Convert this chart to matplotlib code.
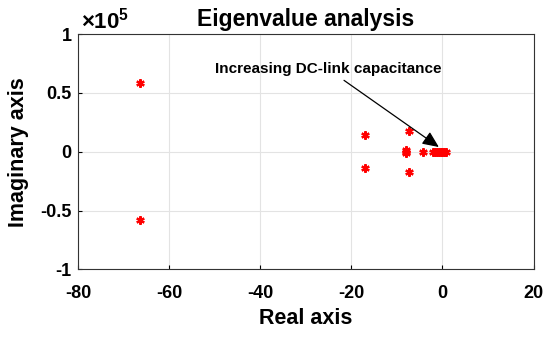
import numpy as np
import matplotlib
matplotlib.use('Agg')
import matplotlib.pyplot as plt
from matplotlib.ticker import FuncFormatter

plt.rcParams['font.family'] = ['Liberation Sans', 'DejaVu Sans']
plt.rcParams['font.weight'] = 'bold'
plt.rcParams['axes.unicode_minus'] = False
plt.rcParams['mathtext.fontset'] = 'custom'
plt.rcParams['mathtext.rm'] = 'Liberation Sans:bold'
plt.rcParams['mathtext.bf'] = 'Liberation Sans:bold'

# eigenvalues (real part, imaginary part)
re_part = [-66.5, -66.5, -17.0, -17.0, -7.3, -7.3, -8.0, -8.0, -8.0,
           -4.2, -2.1, -1.6, -1.2, -0.8, -0.4, 0.0, 0.4, 0.8]
im_part = [58000, -58000, 14500, -14000, 18000, -17500, 1200, -1200, 0,
           0, 0, 0, 0, 0, 0, 0, 0, 0]

fig = plt.figure(figsize=(5.5, 3.38), dpi=100)
ax = fig.add_axes([0.1427, 0.2027, 0.8273, 0.6967])

ax.plot(re_part, im_part, linestyle='none', marker=(6, 2, 0),
        color='red', markersize=6, markeredgewidth=1.6)

ax.set_xlim(-80, 20)
ax.set_ylim(-1e5, 1e5)
ax.set_xticks([-80, -60, -40, -20, 0, 20])
ax.set_yticks([-1e5, -0.5e5, 0, 0.5e5, 1e5])
ax.yaxis.set_major_formatter(FuncFormatter(lambda v, p: '%g' % (v / 1e5)))

ax.grid(True, color='#e3e3e3', linewidth=0.8)
ax.tick_params(direction='in', labelsize=13, length=3, width=0.8)
ax.tick_params(axis='x', pad=11)
ax.tick_params(axis='y', pad=5)
for s in ax.spines.values():
    s.set_color('#333333')
    s.set_linewidth(0.8)

ax.set_xlabel('Real axis', fontsize=15.5, fontweight='bold')
ax.set_ylabel('Imaginary axis', fontsize=15.5, fontweight='bold')
ax.xaxis.set_label_coords(0.5, -0.165)
ax.yaxis.set_label_coords(-0.108, 0.5)
ax.set_title('Eigenvalue analysis', fontsize=16.5, fontweight='bold', pad=6)

fig.text(81 / 550, 1 - 29 / 338, r'$\times\mathbf{10^{5}}$', fontsize=16,
         ha='left', va='baseline')

ax.annotate('Increasing DC-link capacitance', xy=(-0.8, 4000), xytext=(-25.2, 70300),
            fontsize=11, fontweight='bold', ha='center', va='center',
            arrowprops=dict(arrowstyle='-|>,head_length=0.9,head_width=0.4',
                            color='black', lw=0.9, shrinkA=2, shrinkB=0))

fig.savefig('out.png', dpi=100)
